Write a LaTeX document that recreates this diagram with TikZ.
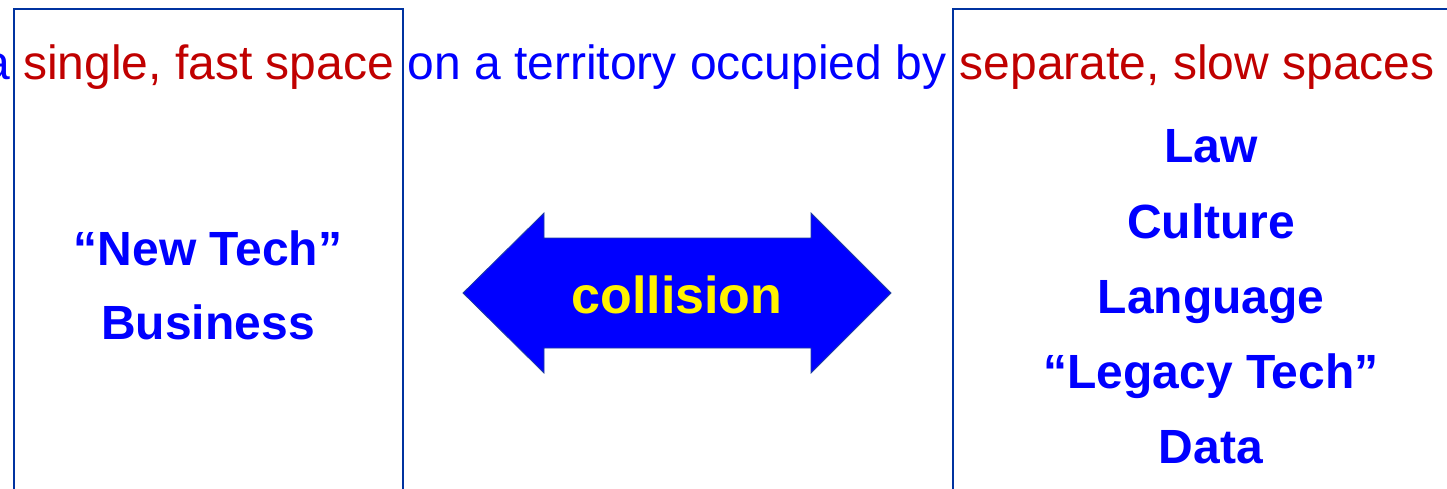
\documentclass[tikz,border=0pt]{standalone}
\usepackage{fontspec}
\setmainfont{Liberation Sans}
\definecolor{slowred}{HTML}{C00000}
\definecolor{textblue}{HTML}{0000FF}
\definecolor{frameblue}{HTML}{0033A0}
\definecolor{arrowedge}{HTML}{1F3F9F}

\begin{document}
\begin{tikzpicture}[x=1pt,y=-1pt,
        box/.style={draw=frameblue, line width=2pt, anchor=north west, inner sep=0pt},
        item/.style={text=textblue, font=\fontsize{48}{48}\selectfont\bfseries, anchor=base}]
                \useasboundingbox (0,0) rectangle (1447,489);
                \clip (0,0) rectangle (1447,489);

                \node (fastbox) [box, minimum width=389pt, minimum height=540pt] at (13,8) {};
                \node (slowbox) [box, minimum width=540pt, minimum height=540pt] at (952,8) {};

                % one line of text running across both boxes
                \node (heading) [anchor=base west, inner sep=0pt, text=textblue,
                    font=\fontsize{48}{48}\selectfont] at (-17,80)
                    {a \textcolor{slowred}{single, fast space} on a territory occupied by \textcolor{slowred}{separate, slow spaces}};

                \node (newtech) [item] at (208,265) {“New Tech”};
                \node (business) [item] at (208,339) {Business};

                \foreach \word [count=\i] in {Law,Culture,Language,“Legacy Tech”,Data}
                    \node (slow\i) [item] at (1211,88+75*\i) {\word};

                % double headed arrow between the two spaces
                \draw [draw=arrowedge, fill=textblue, line width=0.8pt]
                    (463,293) -- (544,213) -- (544,238) -- (811,238) -- (811,213) -- (891,293)
                    -- (811,373) -- (811,348) -- (544,348) -- (544,373) -- cycle;
                \node (collision) [anchor=base, text=yellow, font=\fontsize{52}{52}\selectfont\bfseries] at (677,313) {collision};
            \end{tikzpicture}
\end{document}
